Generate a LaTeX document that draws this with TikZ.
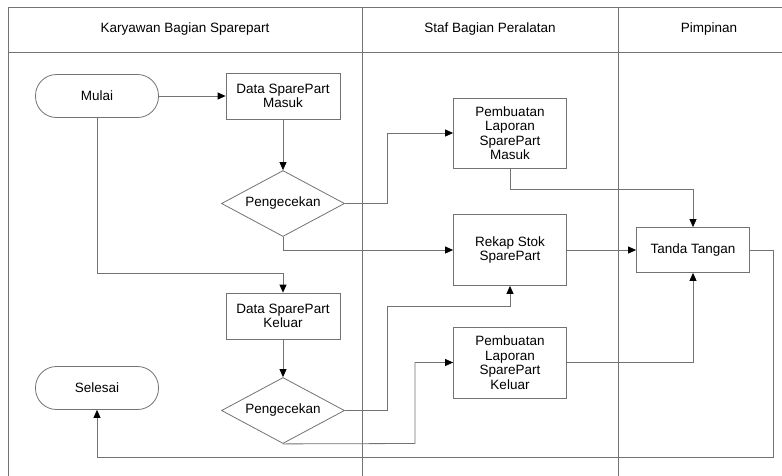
\documentclass[tikz,border=0pt]{standalone}
\usepackage{fontspec}
\setmainfont{Liberation Sans}
\usepackage{tikz}
\usetikzlibrary{arrows.meta,positioning,fit,shapes.geometric}

\tikzset{
  lane/.style={draw=black!55, line width=0.8pt, inner sep=0pt, outer sep=0pt},
  proses/.style={draw=black!55, line width=0.8pt, minimum width=114pt, minimum height=46pt, align=center, inner sep=1pt},
  terminal/.style={draw=black!55, line width=0.8pt, rounded corners=21pt, minimum width=123pt, minimum height=43pt},
  cek/.style={draw=black!55, diamond, line width=0.8pt, minimum width=123pt, minimum height=66pt, inner sep=0pt, aspect=1.9},
  alur/.style={draw=black!55, line width=0.8pt, -{Triangle[length=8pt,width=7pt,black]}},
}

\begin{document}
\begin{tikzpicture}[x=1pt, y=-1pt, font=\fontsize{13.5}{14.5}\selectfont, text=black]
      \clip (0,0) rectangle (782,475);
      \fill[white] (0,0) rectangle (782,475);
      \begin{scope}
        \node [lane, fit={(  8,7) (362,52)}, label=center:{Karyawan Bagian Sparepart}] (hKaryawan) {};
        \node [lane, fit={(362,7) (618,52)}, label=center:{Staf Bagian Peralatan}] (hStaf) {};
        \node [lane, fit={(618,7) (800,52)}, label=center:{Pimpinan}] (hPimpinan) {};
        \node [lane, fit={(  8,52) (362,490)}] (lKaryawan) {};
        \node [lane, fit={(362,52) (618,490)}] (lStaf) {};
        \node [lane, fit={(618,52) (800,490)}] (lPimpinan) {};
      \end{scope}

      \node [terminal] (mulai) at (97,96) {Mulai};
      \node [proses] (dataMasuk) at (283,96) {Data SparePart\\Masuk};
      \node [cek] (cekMasuk) at (283,203.5) {Pengecekan};
      \node [proses, minimum width=113pt, minimum height=70pt] (lapMasuk) at (510,133) {Pembuatan\\Laporan\\SparePart\\Masuk};
      \node [proses, minimum width=113pt, minimum height=71pt] (rekap) at (510,250) {Rekap Stok\\SparePart};
      \node [proses, minimum width=113pt, minimum height=45pt] (ttd) at (693,250) {Tanda Tangan};
      \node [proses] (dataKeluar) at (283,316) {Data SparePart\\Keluar};
      \node [cek] (cekKeluar) at (283,410.5) {Pengecekan};
      \node [proses, minimum width=113pt, minimum height=71pt] (lapKeluar) at (510,362.5) {Pembuatan\\Laporan\\SparePart\\Keluar};
      \node [terminal] (selesai) at (97,388) {Selesai};

      \draw [alur] (mulai) -- (dataMasuk);
      \draw [alur] (dataMasuk) -- (cekMasuk);
      \draw [alur] (cekMasuk.east) -- (387,203.5) |- (lapMasuk.west);
      \draw [alur] (cekMasuk.south) |- (rekap.west);
      \draw [alur] (mulai.south) -- (97,273) -| (dataKeluar.north);
      \draw [alur] (dataKeluar) -- (cekKeluar);
      \draw [alur] (cekKeluar.east) -- (387,410.5) -- (387,306) -| (rekap.south);
      \draw [alur] (cekKeluar.south) -- (415,443.5) |- (lapKeluar.west);
      \draw [alur] (lapMasuk.south) -- (510,189) -| (ttd.north);
      \draw [alur] (rekap) -- (ttd);
      \draw [alur] (lapKeluar.east) -| (ttd.south);
      \draw [alur] (ttd.east) -| (773,457) -| (selesai.south);
    \end{tikzpicture}
\end{document}
